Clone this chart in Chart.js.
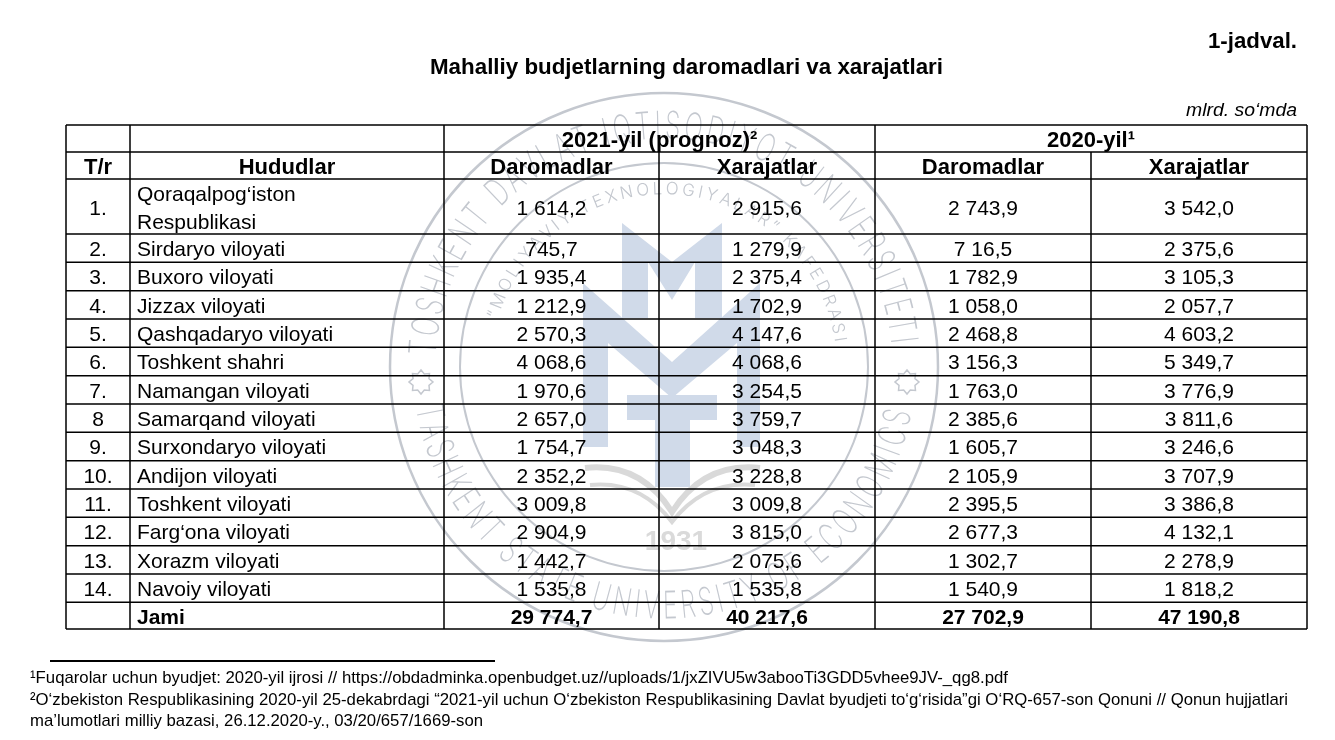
<!DOCTYPE html>
<html>
<head>
<meta charset="utf-8">
<title>Mahalliy budjetlarning daromadlari va xarajatlari</title>
<script src="https://cdn.jsdelivr.net/npm/chart.js"></script>
<style>
    html, body { margin: 0; padding: 0; background: #ffffff; }
    #wrap { width: 1335px; height: 740px; }
</style>
</head>
<body>
<div id="wrap"><canvas id="budget-table" width="1335" height="740"></canvas></div>
<script>
// Table data (mlrd. so'mda), as printed in the source
const rowNumbers = ['1.', '2.', '3.', '4.', '5.', '6.', '7.', '8', '9.', '10.', '11.', '12.', '13.', '14.'];
const regions = [
    'Qoraqalpog‘iston\nRespublikasi', 'Sirdaryo viloyati', 'Buxoro viloyati', 'Jizzax viloyati',
    'Qashqadaryo viloyati', 'Toshkent shahri', 'Namangan viloyati', 'Samarqand viloyati',
    'Surxondaryo viloyati', 'Andijon viloyati', 'Toshkent viloyati', 'Farg‘ona viloyati',
    'Xorazm viloyati', 'Navoiy viloyati'
];
const income2021 = ['1 614,2', '745,7', '1 935,4', '1 212,9', '2 570,3', '4 068,6', '1 970,6', '2 657,0', '1 754,7', '2 352,2', '3 009,8', '2 904,9', '1 442,7', '1 535,8'];
const expense2021 = ['2 915,6', '1 279,9', '2 375,4', '1 702,9', '4 147,6', '4 068,6', '3 254,5', '3 759,7', '3 048,3', '3 228,8', '3 009,8', '3 815,0', '2 075,6', '1 535,8'];
const income2020 = ['2 743,9', '7 16,5', '1 782,9', '1 058,0', '2 468,8', '3 156,3', '1 763,0', '2 385,6', '1 605,7', '2 105,9', '2 395,5', '2 677,3', '1 302,7', '1 540,9'];
const expense2020 = ['3 542,0', '2 375,6', '3 105,3', '2 057,7', '4 603,2', '5 349,7', '3 776,9', '3 811,6', '3 246,6', '3 707,9', '3 386,8', '4 132,1', '2 278,9', '1 818,2'];
const totalLabel = 'Jami';
const totals = ['29 774,7', '40 217,6', '27 702,9', '47 190,8'];

const groupHeaders = ['2021-yil (prognoz)²', '2020-yil¹'];
const columnHeaders = ['T/r', 'Hududlar', 'Daromadlar', 'Xarajatlar', 'Daromadlar', 'Xarajatlar'];

const tableNo = '1-jadval.';
const tableTitle = 'Mahalliy budjetlarning daromadlari va xarajatlari';
const unitNote = 'mlrd. so‘mda';
const footnotes = [
    '¹Fuqarolar uchun byudjet: 2020-yil ijrosi // https://obdadminka.openbudget.uz//uploads/1/jxZIVU5w3abooTi3GDD5vhee9JV-_qg8.pdf',
    '²O‘zbekiston Respublikasining 2020-yil 25-dekabrdagi “2021-yil uchun O‘zbekiston Respublikasining Davlat byudjeti to‘g‘risida”gi O‘RQ-657-son Qonuni // Qonun hujjatlari',
    'ma’lumotlari milliy bazasi, 26.12.2020-y., 03/20/657/1669-son'
];

// Layout (scale units = pixels of the table grid)
const colWidths = [64, 314, 215, 216, 216, 216];
const rowHeights = [27, 27, 55].concat(new Array(13).fill(28.33)).concat([26.7]);
const colEdges = colWidths.reduce((a, w) => { a.push(a[a.length - 1] + w); return a; }, [0]);
const rowEdges = rowHeights.reduce((a, h) => { a.push(a[a.length - 1] + h); return a; }, [0]);

const FONT = "'Liberation Sans', Arial, Helvetica, sans-serif";
const THIN = "Inter, Roboto, 'Open Sans', sans-serif";
const INK = '#000000';
const MARK = '#c4c8cf';

function fitText(ctx, text, left, right, baseline) {
    const w = ctx.measureText(text).width;
    ctx.save();
    ctx.translate(left, baseline);
    ctx.scale((right - left) / w, 1);
    ctx.textAlign = 'left';
    ctx.fillText(text, 0, 0);
    ctx.restore();
}

function arcText(ctx, text, cx, cy, r, a0, a1, sx) {
    // letters spread along the arc from a0 to a1; tops point outward when a1 > a0
    const chars = Array.from(text);
    const widths = chars.map(c => ctx.measureText(c).width * sx);
    const total = widths.reduce((s, w) => s + w, 0);
    const arcLen = Math.abs(a1 - a0) * r;
    const gap = (arcLen - total) / (chars.length - 1);
    const dir = a1 > a0 ? 1 : -1;
    let pos = 0;
    chars.forEach((c, i) => {
        const a = a0 + dir * (pos + widths[i] / 2) / r;
        ctx.save();
        ctx.translate(cx + r * Math.cos(a), cy + r * Math.sin(a));
        ctx.rotate(a + dir * Math.PI / 2);
        ctx.scale(sx, 1);
        ctx.textAlign = 'center';
        ctx.textBaseline = 'middle';
        ctx.fillText(c, 0, 0);
        ctx.restore();
        pos += widths[i] + gap;
    });
}

function drawStar(ctx, x, y, s) {
    ctx.beginPath();
    for (let i = 0; i < 16; i++) {
        const a = i * Math.PI / 8;
        const rr = i % 2 === 0 ? s : s * 0.72;
        const px = x + rr * Math.cos(a), py = y + rr * Math.sin(a);
        if (i === 0) ctx.moveTo(px, py); else ctx.lineTo(px, py);
    }
    ctx.closePath();
    ctx.stroke();
}

function drawWatermark(ctx) {
    const cx = 664, cy = 367;
    ctx.save();
    ctx.strokeStyle = MARK;
    ctx.fillStyle = MARK;
    ctx.lineWidth = 2.5;
    ctx.beginPath(); ctx.arc(cx, cy, 274, 0, Math.PI * 2); ctx.stroke();
    ctx.lineWidth = 2;
    ctx.beginPath(); ctx.arc(cx, cy, 204, 0, Math.PI * 2); ctx.stroke();

    ctx.font = '200 38px ' + THIN;
    arcText(ctx, 'TOSHKENT DAVLAT IQTISODIYOT UNIVERSITETI', cx, cy, 240, Math.PI + 0.05, 2 * Math.PI - 0.1, 0.64);
    arcText(ctx, 'TASHKENT STATE UNIVERSITY OF ECONOMICS', cx, cy, 240, Math.PI - 0.16, 0.18, 0.64);
    ctx.lineWidth = 1.5;
    drawStar(ctx, cx - 243, cy + 15, 12);
    drawStar(ctx, cx + 243, cy + 15, 12);

    ctx.font = '300 17px ' + THIN;
    arcText(ctx, '“MOLIYAVIY TEXNOLOGIYALAR” KAFEDRASI', cx, cy, 178, 3.42, 6.14, 1);

    // logo
    ctx.fillStyle = '#d0dae9';
    const poly = pts => {
        ctx.beginPath();
        pts.forEach((p, i) => i ? ctx.lineTo(p[0], p[1]) : ctx.moveTo(p[0], p[1]));
        ctx.closePath();
        ctx.fill();
    };
    poly([[622, 223], [672, 262], [722, 223], [722, 318], [695, 318], [695, 262], [672, 300], [648, 262], [648, 318], [622, 318]]);
    poly([[583, 283], [672, 362], [760, 283], [760, 447], [737, 447], [737, 343], [672, 398], [608, 343], [608, 447], [583, 447]]);
    poly([[627, 395], [717, 395], [717, 420], [690, 420], [690, 487], [655, 487], [655, 420], [627, 420]]);

    ctx.strokeStyle = '#d9d9d9';
    ctx.lineWidth = 6;
    ctx.beginPath(); ctx.moveTo(585, 468); ctx.quadraticCurveTo(640, 462, 672, 512); ctx.quadraticCurveTo(704, 462, 760, 468); ctx.stroke();
    ctx.lineWidth = 4;
    ctx.beginPath(); ctx.moveTo(590, 485); ctx.quadraticCurveTo(640, 480, 672, 522); ctx.quadraticCurveTo(704, 480, 755, 485); ctx.stroke();

    ctx.fillStyle = '#dadada';
    ctx.font = 'bold 28px ' + FONT;
    ctx.textAlign = 'center';
    ctx.fillText('1931', 676, 550);
    ctx.restore();
}

function drawGrid(chart) {
    const ctx = chart.ctx;
    const x = chart.scales.x, y = chart.scales.y;
    ctx.save();
    ctx.strokeStyle = INK;
    ctx.lineWidth = 1.5;
    ctx.beginPath();
    rowEdges.forEach(v => {
        const py = y.getPixelForValue(v);
        ctx.moveTo(x.getPixelForValue(0), py);
        ctx.lineTo(x.getPixelForValue(colEdges[colEdges.length - 1]), py);
    });
    colEdges.forEach((v, i) => {
        const px = x.getPixelForValue(v);
        // the group header row spans columns 2-3 and 4-5
        const from = (i === 3 || i === 5) ? rowEdges[1] : rowEdges[0];
        ctx.moveTo(px, y.getPixelForValue(from));
        ctx.lineTo(px, y.getPixelForValue(rowEdges[rowEdges.length - 1]));
    });
    ctx.stroke();
    ctx.restore();
}

function drawCells(chart) {
    const ctx = chart.ctx;
    const x = chart.scales.x, y = chart.scales.y;
    const colCenter = (a, b) => (x.getPixelForValue(colEdges[a]) + x.getPixelForValue(colEdges[b])) / 2;
    const rowCenter = r => (y.getPixelForValue(rowEdges[r]) + y.getPixelForValue(rowEdges[r + 1])) / 2;
    const leftPad = 7;
    const base = 8;

    ctx.save();
    ctx.fillStyle = INK;
    ctx.textBaseline = 'alphabetic';

    // group headers
    ctx.font = 'bold 22px ' + FONT;
    ctx.textAlign = 'center';
    ctx.fillText(groupHeaders[0], colCenter(2, 4), rowCenter(0) + base);
    ctx.fillText(groupHeaders[1], colCenter(4, 6), rowCenter(0) + base);

    // column headers
    columnHeaders.forEach((h, c) => ctx.fillText(h, colCenter(c, c + 1), rowCenter(1) + base));

    // region rows
    ctx.font = '21px ' + FONT;
    const valueCols = [income2021, expense2021, income2020, expense2020];
    regions.forEach((name, i) => {
        const r = i + 2;
        const cy = rowCenter(r);
        ctx.textAlign = 'center';
        ctx.fillText(rowNumbers[i], colCenter(0, 1), cy + base);
        valueCols.forEach((col, k) => ctx.fillText(col[i], colCenter(k + 2, k + 3), cy + base));
        ctx.textAlign = 'left';
        const lines = name.split('\n');
        const lx = x.getPixelForValue(colEdges[1]) + leftPad;
        lines.forEach((ln, j) => {
            const off = (j - (lines.length - 1) / 2) * 28;
            ctx.fillText(ln, lx, cy + off + base);
        });
    });

    // total row
    const tr = rowHeights.length - 1;
    ctx.font = 'bold 21px ' + FONT;
    ctx.textAlign = 'left';
    ctx.fillText(totalLabel, x.getPixelForValue(colEdges[1]) + leftPad, rowCenter(tr) + base);
    ctx.textAlign = 'center';
    totals.forEach((t, k) => ctx.fillText(t, colCenter(k + 2, k + 3), rowCenter(tr) + base));
    ctx.restore();
}

function drawCaptions(chart) {
    const ctx = chart.ctx;
    ctx.save();
    ctx.fillStyle = INK;
    ctx.textBaseline = 'alphabetic';

    ctx.font = 'bold 22px ' + FONT;
    fitText(ctx, tableNo, 1208, 1297, 48);
    fitText(ctx, tableTitle, 430, 943, 74);

    ctx.font = 'italic 19px ' + FONT;
    fitText(ctx, unitNote, 1186, 1297, 116);

    // footnote rule
    ctx.strokeStyle = INK;
    ctx.lineWidth = 2;
    ctx.beginPath(); ctx.moveTo(50, 661); ctx.lineTo(495, 661); ctx.stroke();

    ctx.font = '17px ' + FONT;
    fitText(ctx, footnotes[0], 30, 1008, 683);
    fitText(ctx, footnotes[1], 30, 1288, 705);
    fitText(ctx, footnotes[2], 30, 483, 726);
    ctx.restore();
}

const tablePlugin = {
    id: 'tableDraw',
    beforeDraw(chart) {
        const ctx = chart.ctx;
        ctx.save();
        ctx.fillStyle = '#ffffff';
        ctx.fillRect(0, 0, chart.width, chart.height);
        ctx.restore();
        drawWatermark(ctx);
    },
    afterDraw(chart) {
        drawGrid(chart);
        drawCells(chart);
        drawCaptions(chart);
    }
};

new Chart(document.getElementById('budget-table'), {
    type: 'scatter',
    data: { datasets: [] },
    options: {
        responsive: false,
        animation: false,
        events: [],
        layout: { padding: { left: 66, right: 28, top: 125, bottom: 111 } },
        plugins: {
            legend: { display: false },
            tooltip: { enabled: false },
            title: { display: false }
        },
        scales: {
            x: { type: 'linear', display: false, min: 0, max: colEdges[colEdges.length - 1] },
            y: { type: 'linear', display: false, min: 0, max: rowEdges[rowEdges.length - 1], reverse: true }
        }
    },
    plugins: [tablePlugin]
});
</script>
</body>
</html>
